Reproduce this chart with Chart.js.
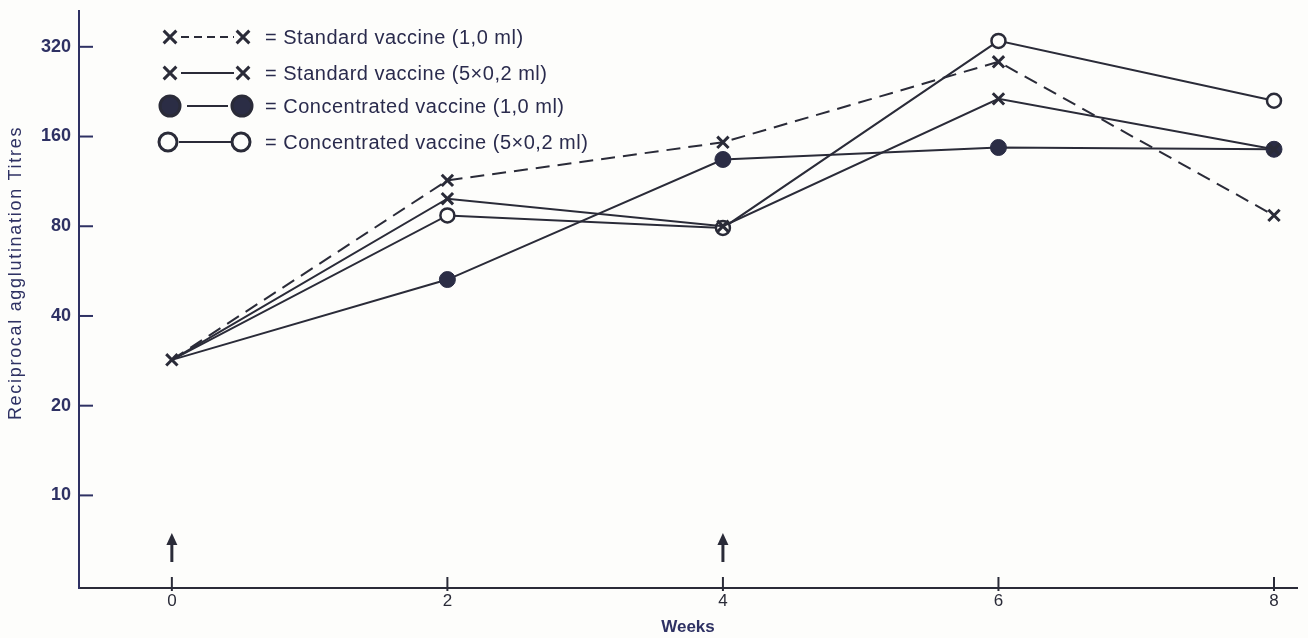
<!DOCTYPE html>
<html>
<head>
<meta charset="utf-8">
<script src="https://cdn.jsdelivr.net/npm/chart.js@4.4.0/dist/chart.umd.min.js"></script>
<style>
 body { margin: 0; background: #fdfdfb; }
 canvas { display: block; }
</style>
</head>
<body>
<canvas id="titreChart" width="1308" height="638"></canvas>
<script>
let weeks = [0, 2, 4, 6, 8];
let standardFull = [28.5, 114, 153, 285, 87];
let standardSplit = [28.5, 99, 80, 214, 145];
let concFull = [28.5, 53, 134, 147, 145];
let concSplit = [28.5, 87, 79, 335, 211];
let titreTicks = [10, 20, 40, 80, 160, 320];
let weekTicks = [0, 2, 4, 6, 8];
let boosterWeeks = [0, 4];
let seriesLabels = [
 '= Standard vaccine (1,0 ml)',
 '= Standard vaccine (5×0,2 ml)',
 '= Concentrated vaccine (1,0 ml)',
 '= Concentrated vaccine (5×0,2 ml)'
];

const ink = '#2a2b38';
const navy = '#2e3163';
const font = '"Liberation Sans", Arial, sans-serif';

function pts(values) {
 return weeks.map((w, i) => ({ x: w, y: values[i] }));
}

// little helper for the hand-made legend and axis bits
function seg(ctx, x1, y1, x2, y2) {
 ctx.beginPath();
 ctx.moveTo(x1, y1);
 ctx.lineTo(x2, y2);
 ctx.stroke();
}

let extras = {
 id: 'extras',
 afterDraw(chart) {
  let ctx = chart.ctx;
  let xs = chart.scales.x;
  let ys = chart.scales.y;
  let area = chart.chartArea;
  ctx.save();

  // inward tick marks
  ctx.strokeStyle = navy;
  ctx.lineWidth = 2;
  titreTicks.forEach(v => {
   let y = ys.getPixelForValue(v);
   seg(ctx, area.left, y, area.left + 14, y);
  });
  ctx.strokeStyle = ink;
  weekTicks.forEach(v => {
   let x = xs.getPixelForValue(v);
   seg(ctx, x, area.bottom - 11, x, area.bottom + 3);
  });

  // booster arrows
  ctx.fillStyle = ink;
  ctx.lineWidth = 3;
  boosterWeeks.forEach(w => {
   let x = xs.getPixelForValue(w);
   let tip = area.bottom - 55;
   seg(ctx, x, tip + 10, x, area.bottom - 26);
   ctx.beginPath();
   ctx.moveTo(x, tip);
   ctx.lineTo(x - 5.5, tip + 12);
   ctx.lineTo(x + 5.5, tip + 12);
   ctx.closePath();
   ctx.fill();
  });

  // legend
  let rows = [37, 73, 106, 142];
  let marks = [[170, 243, 9], [170, 243, 9], [170, 242, 10], [168, 241, 9]];
  let links = [[181, 234], [181, 234], [187, 228], [179, 231]];
  let sets = chart.data.datasets;
  ctx.textBaseline = 'middle';
  rows.forEach((y, i) => {
   let ds = sets[i];
   ctx.strokeStyle = ink;
   ctx.lineWidth = 2.2;
   ctx.setLineDash(i === 0 ? [8, 5] : []);
   seg(ctx, links[i][0], y, links[i][1], y);
   ctx.setLineDash([]);
   ctx.lineWidth = 3;
   ctx.fillStyle = ds.pointBackgroundColor;
   ctx.strokeStyle = ink;
   [marks[i][0], marks[i][1]].forEach(px => {
    Chart.helpers.drawPoint(ctx, { pointStyle: ds.pointStyle, radius: marks[i][2], rotation: 0, borderWidth: 3 }, px, y);
   });
   ctx.fillStyle = '#2a2b4d';
   ctx.font = '20px ' + font;
   ctx.letterSpacing = '0.5px';
   ctx.fillText(seriesLabels[i], 265, y + 1);
  });

  // y axis title
  ctx.translate(16, 273);
  ctx.rotate(-Math.PI / 2);
  ctx.textAlign = 'center';
  ctx.fillStyle = navy;
  ctx.font = '18px ' + font;
  ctx.letterSpacing = '1.7px';
  ctx.fillText('Reciprocal agglutination Titres', 0, 0);
  ctx.restore();
 }
};

let titreChart = document.getElementById('titreChart').getContext('2d');
let chart1 = new Chart(titreChart, {
 type: 'line',
 data: {
  datasets: [
   {
    label: seriesLabels[0],
    data: pts(standardFull),
    borderColor: ink,
    borderWidth: 2,
    borderDash: [14, 8],
    pointStyle: 'crossRot',
    pointRadius: 8,
    pointBorderWidth: 3,
    pointBorderColor: ink,
    pointBackgroundColor: ink,
    fill: false,
   },
   {
    label: seriesLabels[1],
    data: pts(standardSplit),
    borderColor: ink,
    borderWidth: 2,
    pointStyle: 'crossRot',
    pointRadius: [0, 8, 8, 8, 8],
    pointBorderWidth: 3,
    pointBorderColor: ink,
    pointBackgroundColor: ink,
    fill: false,
   },
   {
    label: seriesLabels[2],
    data: pts(concFull),
    borderColor: ink,
    borderWidth: 2,
    pointStyle: 'circle',
    pointRadius: [0, 8, 8, 8, 8],
    pointBorderWidth: 1,
    pointBorderColor: '#2b2d45',
    pointBackgroundColor: '#2b2d45',
    fill: false,
   },
   {
    label: seriesLabels[3],
    data: pts(concSplit),
    borderColor: ink,
    borderWidth: 2,
    pointStyle: 'circle',
    pointRadius: [0, 7, 7, 7, 7],
    pointBorderWidth: 2.5,
    pointBorderColor: ink,
    pointBackgroundColor: '#fdfdfb',
    fill: false,
   }
  ]
 },
 options: {
  responsive: false,
  animation: false,
  layout: { padding: { top: 10, right: 9, left: 0, bottom: 0 } },
  plugins: {
   legend: { display: false },
   tooltip: { enabled: false }
  },
  scales: {
   x: {
    type: 'linear',
    min: -0.674,
    max: 8.167,
    grid: { display: false, drawTicks: false },
    border: { color: ink, width: 2 },
    afterBuildTicks: s => { s.ticks = weekTicks.map(v => ({ value: v })); },
    ticks: { color: ink, padding: 3, maxRotation: 0, font: { family: font, size: 17 } },
    title: { display: true, text: 'Weeks', color: navy, padding: { top: 0, bottom: 0 }, font: { family: font, size: 17, weight: 'bold' } },
    afterFit: s => { s.height = 50; s.paddingLeft = 0; s.paddingRight = 0; }
   },
   y: {
    type: 'logarithmic',
    min: 4.89,
    max: 422,
    grid: { display: false, drawTicks: false },
    border: { color: navy, width: 2 },
    afterBuildTicks: s => { s.ticks = titreTicks.map(v => ({ value: v })); },
    ticks: { color: navy, padding: 8, callback: v => String(v), font: { family: font, size: 18, weight: 'bold' } },
    afterFit: s => { s.width = 79; s.paddingTop = 0; s.paddingBottom = 0; }
   }
  }
 },
 plugins: [extras]
});
</script>
</body>
</html>
